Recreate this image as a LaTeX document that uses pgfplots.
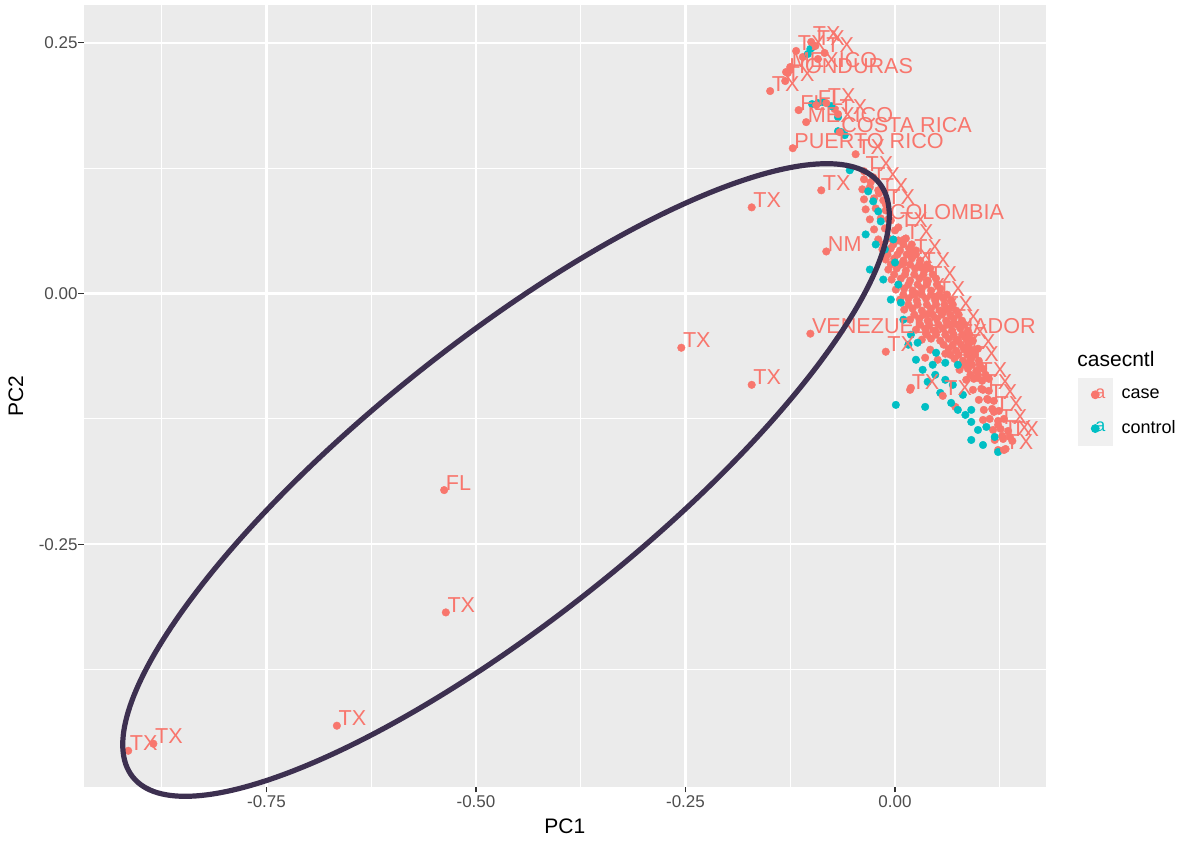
\documentclass[border=0pt]{standalone}
\usepackage{pgfplots}
\usepackage{pgfplotstable}
\pgfplotsset{compat=1.18}
\usepackage{fontspec}
\setmainfont{Liberation Sans}
\definecolor{casec}{HTML}{F8766D}
\definecolor{ctrlc}{HTML}{00BFC4}
\definecolor{panelbg}{HTML}{EBEBEB}
\definecolor{keybg}{HTML}{F0F0F0}
\definecolor{tickc}{HTML}{333333}
\definecolor{tlabc}{HTML}{4D4D4D}
\definecolor{ellc}{HTML}{3D3050}

\pgfplotstableread[col sep=comma]{
x,y
-0.037,0.114
-0.026,0.116
-0.039,0.104
-0.030,0.106
-0.020,0.103
-0.037,0.094
-0.025,0.095
-0.014,0.093
-0.035,0.084
-0.023,0.085
-0.011,0.083
-0.030,0.074
-0.017,0.075
-0.005,0.073
-0.025,0.064
-0.012,0.065
0.000,0.063
-0.020,0.054
-0.008,0.055
0.004,0.053
0.013,0.055
-0.015,0.044
-0.005,0.045
0.006,0.043
0.017,0.045
0.025,0.043
-0.011,0.034
-0.001,0.035
0.010,0.033
0.020,0.035
0.030,0.033
-0.008,0.024
0.002,0.025
0.013,0.023
0.024,0.025
0.035,0.023
0.042,0.025
-0.004,0.014
0.007,0.015
0.018,0.013
0.029,0.015
0.039,0.013
0.049,0.015
0.001,0.004
0.011,0.005
0.021,0.003
0.032,0.005
0.043,0.003
0.054,0.005
0.006,-0.006
0.016,-0.005
0.026,-0.007
0.037,-0.005
0.048,-0.007
0.058,-0.005
0.067,-0.007
0.011,-0.016
0.021,-0.015
0.032,-0.017
0.043,-0.015
0.054,-0.017
0.063,-0.015
0.073,-0.017
0.018,-0.026
0.029,-0.025
0.039,-0.027
0.050,-0.025
0.061,-0.027
0.070,-0.025
0.080,-0.027
0.025,-0.036
0.036,-0.035
0.047,-0.037
0.057,-0.035
0.068,-0.037
0.078,-0.035
0.087,-0.037
0.032,-0.046
0.043,-0.045
0.054,-0.047
0.064,-0.045
0.075,-0.047
0.085,-0.045
0.093,-0.047
0.042,-0.056
0.064,-0.055
0.073,-0.057
0.082,-0.055
0.092,-0.057
0.099,-0.055
0.051,-0.066
0.071,-0.065
0.081,-0.067
0.091,-0.065
0.100,-0.067
0.077,-0.076
0.087,-0.075
0.097,-0.077
0.105,-0.075
0.085,-0.086
0.094,-0.085
0.104,-0.087
0.112,-0.085
0.093,-0.096
0.103,-0.095
0.112,-0.097
0.100,-0.106
0.110,-0.105
0.118,-0.107
0.106,-0.116
0.116,-0.115
0.124,-0.117
0.105,-0.126
0.113,-0.125
0.123,-0.127
0.130,-0.125
0.117,-0.136
0.126,-0.135
0.135,-0.137
0.119,-0.146
0.129,-0.145
0.140,-0.147
0.123,-0.156
0.132,-0.155
0.036,-0.064
0.072,-0.113
0.019,-0.094
-0.130,0.221
-0.092,0.234
-0.072,0.184
-0.110,0.236
-0.014,0.049
-0.002,0.049
0.010,0.049
0.020,0.049
-0.009,0.039
0.003,0.039
0.014,0.039
0.025,0.039
-0.005,0.029
0.007,0.029
0.018,0.029
0.029,0.029
0.038,0.029
-0.001,0.019
0.012,0.019
0.023,0.019
0.034,0.019
0.045,0.019
0.004,0.009
0.016,0.009
0.027,0.009
0.038,0.009
0.050,0.009
0.010,-0.001
0.021,-0.001
0.032,-0.001
0.043,-0.001
0.053,-0.001
0.062,-0.001
0.016,-0.011
0.027,-0.011
0.038,-0.011
0.049,-0.011
0.059,-0.011
0.069,-0.011
0.023,-0.021
0.034,-0.021
0.045,-0.021
0.056,-0.021
0.066,-0.021
0.076,-0.021
0.030,-0.031
0.041,-0.031
0.052,-0.031
0.063,-0.031
0.074,-0.031
0.083,-0.031
0.038,-0.041
0.049,-0.041
0.060,-0.041
0.070,-0.041
0.080,-0.041
0.089,-0.041
0.058,-0.051
0.069,-0.051
0.079,-0.051
0.088,-0.051
0.066,-0.061
0.076,-0.061
0.086,-0.061
0.095,-0.061
0.082,-0.071
0.092,-0.071
0.101,-0.071
0.090,-0.081
0.099,-0.081
0.108,-0.081
}\casetab

\pgfplotstableread[col sep=comma]{
x,y
-0.101,0.244
-0.098,0.246
-0.104,0.239
-0.099,0.189
-0.092,0.190
-0.086,0.191
-0.076,0.187
-0.068,0.176
-0.064,0.161
-0.060,0.158
-0.068,0.162
-0.054,0.123
-0.032,0.102
-0.026,0.092
-0.020,0.082
-0.017,0.072
-0.035,0.059
-0.023,0.049
-0.012,0.044
-0.002,0.054
0.000,0.031
-0.030,0.024
-0.014,0.014
0.004,0.009
-0.005,-0.006
0.007,-0.009
0.010,-0.026
0.019,-0.041
0.016,-0.051
0.027,-0.049
0.049,-0.059
0.060,-0.069
0.075,-0.071
0.045,-0.071
0.025,-0.066
0.033,-0.076
0.048,-0.081
0.060,-0.086
0.039,-0.088
0.069,-0.091
0.054,-0.099
0.081,-0.101
0.001,-0.111
0.036,-0.113
0.067,-0.109
0.075,-0.116
0.084,-0.121
0.091,-0.116
0.091,-0.128
0.109,-0.133
0.099,-0.136
0.091,-0.146
0.105,-0.151
0.119,-0.143
0.123,-0.158
}\ctrltab

\pgfplotstableread[col sep=comma]{
x,y,label
-0.915,-0.456,TX
-0.885,-0.449,TX
-0.666,-0.431,TX
-0.536,-0.318,TX
-0.538,-0.196,FL
-0.255,-0.054,TX
-0.171,-0.091,TX
-0.171,0.086,TX
-0.088,0.103,TX
-0.082,0.042,NM
-0.101,-0.040,VENEZUELA
-0.122,0.145,PUERTO RICO
-0.047,0.139,TX
-0.149,0.202,TX
-0.131,0.212,TX
-0.106,0.171,MEXICO
-0.115,0.183,FL
-0.094,0.188,FL
-0.082,0.190,TX
-0.066,0.161,COSTA RICA
-0.068,0.179,TX
-0.128,0.220,HONDURAS
-0.125,0.226,MEXICO
-0.118,0.242,TX
-0.095,0.247,TX
-0.084,0.240,TX
-0.100,0.251,TX
-0.037,0.122,TX
-0.029,0.111,TX
-0.019,0.100,TX
-0.011,0.089,TX
-0.008,0.074,COLOMBIA
0.004,0.066,TX
0.011,0.054,TX
0.021,0.039,TX
0.031,0.026,TX
0.039,0.012,TX
0.049,-0.003,TX
0.058,-0.018,TX
0.067,-0.031,TX
0.075,-0.046,TX
0.085,-0.056,TX
0.089,-0.068,TX
0.099,-0.084,TX
0.105,-0.096,TX
0.111,-0.106,TX
0.118,-0.118,TX
0.123,-0.131,TX
0.128,-0.142,TX
0.137,-0.143,TX
0.130,-0.156,TX
-0.011,-0.058,TX
0.018,-0.096,TX
0.057,-0.102,TX
0.010,0.030,TX
0.025,0.000,TX
0.040,-0.020,TX
0.060,-0.060,TX
0.037,-0.040,ECUADOR
}\labtab

\begin{document}
\begin{tikzpicture}[x=0.5bp,y=0.5bp]
\begin{axis}[
  at={(100,53)}, anchor=south west,
  scale only axis, width=481bp, height=391bp,
  xmin=-0.968, xmax=0.180, ymin=-0.492, ymax=0.288,
  axis background/.style={fill=panelbg},
  axis line style={draw=none},
  xtick pos=bottom, ytick pos=left,
  xtick={-0.75,-0.5,-0.25,0}, xticklabels={-0.75,-0.50,-0.25,0.00},
  ytick={-0.25,0,0.25}, yticklabels={-0.25,0.00,0.25},
  minor xtick={-0.875,-0.625,-0.375,-0.125,0.125},
  minor ytick={-0.375,-0.125,0.125},
  grid=both,
  major grid style={white, line width=1.1bp},
  minor grid style={white, line width=0.55bp},
  tick align=outside, major tick length=2.75bp, minor tick length=0pt,
  tick style={tickc, line width=0.55bp},
  ticklabel style={font=\fontsize{8.5bp}{10bp}\selectfont, text=tlabc},
  xticklabel style={inner sep=1.5bp},
  yticklabel style={inner sep=0.2bp},
  xlabel={PC1}, ylabel={PC2},
  label style={font=\fontsize{10.5bp}{12bp}\selectfont},
  xlabel style={at={(axis description cs:0.5,-0.0499)}, anchor=center},
  ylabel style={at={(axis description cs:-0.0707,0.5)}, anchor=center},
  legend style={at={(axis description cs:1.0333,0.523)}, anchor=north west,
    draw=none, fill=none, inner sep=0pt, outer sep=0pt, row sep=0pt,
    column sep=4.5bp, nodes={inner sep=0pt, font=\fontsize{9bp}{10bp}\selectfont}},
  legend cell align=left,
]
\addplot[casec, only marks, mark=*, mark size=1.9bp, mark options={fill=casec, draw=casec, line width=0.2bp},
  legend image code/.code={\fill[keybg] (-8.5bp,-8.25bp) rectangle (8.5bp,8.25bp);
    \fill[casec] (0,0) circle (2bp);
    \node[text=casec, inner sep=0pt, font=\fontsize{9bp}{9bp}\selectfont] at (0,0) {a};}]
  table[x=x, y=y] {\casetab};
\addlegendentry{case}
\addplot[ctrlc, only marks, mark=*, mark size=1.9bp, mark options={fill=ctrlc, draw=ctrlc, line width=0.2bp},
  legend image code/.code={\fill[keybg] (-8.5bp,-8.25bp) rectangle (8.5bp,8.25bp);
    \fill[ctrlc] (0,0) circle (2bp);
    \node[text=ctrlc, inner sep=0pt, font=\fontsize{9bp}{9bp}\selectfont] at (0,0) {a};}]
  table[x=x, y=y] {\ctrltab};
\addlegendentry{control}
\addplot[casec, forget plot, only marks, mark=*, mark size=1.9bp, mark options={fill=casec, draw=casec, line width=0.2bp},
  nodes near coords, point meta=explicit symbolic,
  nodes near coords style={anchor=base west, inner sep=0pt, xshift=0.75bp,
    font=\fontsize{10.8bp}{12bp}\selectfont, text=casec}]
  table[x=x, y=y, meta=label] {\labtab};
\end{axis}
\node[anchor=west, inner sep=0pt, font=\fontsize{10.5bp}{12bp}\selectfont] at (1077,481) {casecntl};
\draw[ellc, line width=2.6bp, rotate around={38.5:(506,360)}] (506,360) ellipse [x radius=477, y radius=139];
\pgfresetboundingbox
\useasboundingbox (0,0) rectangle (1186,840);
\end{tikzpicture}
\end{document}
